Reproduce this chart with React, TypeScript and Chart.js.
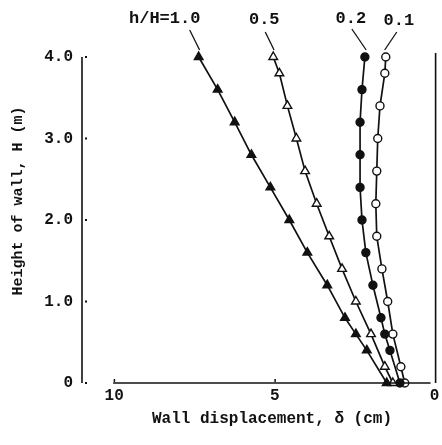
import React, { useEffect, useRef } from "react";
import { Chart, registerables } from "chart.js";

Chart.register(...registerables);

// Heights (m) at which displacement was measured
const heightsA = [4.0, 3.6, 3.2, 2.8, 2.4, 2.0, 1.6, 1.2, 0.8, 0.6, 0.4, 0];
const heightsB = [4.0, 3.8, 3.4, 3.0, 2.6, 2.2, 1.8, 1.4, 1.0, 0.6, 0.2, 0];

// Wall displacement (cm) for each h/H
const disp10 = [7.37, 6.78, 6.25, 5.73, 5.14, 4.55, 3.99, 3.37, 2.82, 2.48, 2.14, 1.52];
const disp05 = [5.05, 4.86, 4.61, 4.33, 4.06, 3.7, 3.31, 2.91, 2.48, 2.01, 1.58, 1.33];
const disp02 = [2.2, 2.29, 2.35, 2.35, 2.35, 2.29, 2.17, 1.95, 1.7, 1.58, 1.42, 1.11];
const disp01 = [1.55, 1.58, 1.73, 1.8, 1.83, 1.86, 1.83, 1.67, 1.49, 1.33, 1.08, 0.96];

const seriesLabels = ["h/H=1.0", "0.5", "0.2", "0.1"];
const yTicks = [4, 3, 2, 1, 0];
const yTickLabels = ["4.0", "3.0", "2.0", "1.0", "0"];
const xTicks = [10, 5, 0];
const xTickLabels = ["10", "5", "0"];
const xTitle = "Wall displacement, δ (cm)";
const yTitle = "Height of wall, H (m)";

const FONT = "'Liberation Mono', 'Courier New', monospace";

const toPts = (xs: number[], ys: number[]) => xs.map((x, i) => ({ x, y: ys[i] }));

// label offsets relative to top point of each series: [labelDx, labelDy, lineStartDx, lineStartDy]
const labelOffsets = [
  [-34, -38, -9, -27],
  [-9, -37, -8, -25],
  [-14, -38, -13, -28],
  [13, -36, 11, -25],
];

const decorPlugin = {
  id: "decor",
  afterDraw(chart: any) {
    const ctx = chart.ctx as CanvasRenderingContext2D;
    const xs = chart.scales.x;
    const ys = chart.scales.y;
    const ca = chart.chartArea;
    ctx.save();
    ctx.strokeStyle = "#111";
    ctx.fillStyle = "#111";
    // left axis
    ctx.lineWidth = 1.6;
    ctx.beginPath();
    ctx.moveTo(ca.left, ys.getPixelForValue(4));
    ctx.lineTo(ca.left, ys.getPixelForValue(0));
    ctx.stroke();
    // right line
    ctx.beginPath();
    ctx.moveTo(ca.right, ys.getPixelForValue(4) - 4);
    ctx.lineTo(ca.right, ys.getPixelForValue(0));
    ctx.stroke();
    // bottom line
    ctx.beginPath();
    ctx.moveTo(xs.getPixelForValue(10) - 1, ys.getPixelForValue(0));
    ctx.lineTo(xs.getPixelForValue(0) - 5, ys.getPixelForValue(0));
    ctx.stroke();
    // y tick dots
    yTicks.forEach((v) => {
      const py = ys.getPixelForValue(v);
      ctx.fillRect(ca.left + 3, py - 1, 2, 2);
    });
    // x tick marks
    [10, 5].forEach((v) => {
      const px = xs.getPixelForValue(v);
      ctx.fillRect(px - 0.5, ys.getPixelForValue(0) - 4, 1.5, 3);
    });
    // y tick labels
    ctx.font = `bold 16px ${FONT}`;
    ctx.textAlign = "right";
    ctx.textBaseline = "middle";
    yTicks.forEach((v, i) => {
      ctx.fillText(yTickLabels[i], ca.left - 9, ys.getPixelForValue(v));
    });
    // x tick labels
    ctx.textAlign = "center";
    xTicks.forEach((v, i) => {
      const px = xs.getPixelForValue(v);
      ctx.fillText(xTickLabels[i], v === 0 ? px - 1 : px, ys.getPixelForValue(0) + 13);
    });
    // x title
    ctx.font = `bold 16px ${FONT}`;
    ctx.fillText(xTitle, 272, 419);
    // y title
    ctx.font = `bold 15px ${FONT}`;
    ctx.save();
    ctx.translate(18, 201);
    ctx.rotate(-Math.PI / 2);
    ctx.fillText(yTitle, 0, 0);
    ctx.restore();
    // series labels with leader lines
    ctx.font = `bold 17px ${FONT}`;
    ctx.lineWidth = 1.3;
    chart.data.datasets.forEach((ds: any, i: number) => {
      const p0 = ds.data[0];
      const px = xs.getPixelForValue(p0.x);
      const py = ys.getPixelForValue(p0.y);
      const [lx, ly, sx, sy] = labelOffsets[i];
      ctx.fillText(seriesLabels[i], px + lx, py + ly);
      ctx.beginPath();
      ctx.moveTo(px + sx, py + sy);
      ctx.lineTo(px - sx * 0.1, py - 7);
      ctx.stroke();
    });
    ctx.restore();
  },
};

export default function App() {
  const ref = useRef<HTMLCanvasElement | null>(null);
  useEffect(() => {
    if (!ref.current) return;
    const common = {
      showLine: true,
      borderColor: "#111",
      borderWidth: 1.7,
      pointBorderColor: "#111",
      pointBorderWidth: 1.4,
      clip: false as any,
    };
    const chart = new Chart(ref.current, {
      type: "scatter",
      data: {
        datasets: [
          { ...common, label: seriesLabels[0], data: toPts(disp10, heightsA), pointStyle: "triangle", pointRadius: 5, pointBackgroundColor: "#111" },
          { ...common, label: seriesLabels[1], data: toPts(disp05, heightsB), pointStyle: "triangle", pointRadius: 5, pointBackgroundColor: "#fff" },
          { ...common, label: seriesLabels[2], data: toPts(disp02, heightsA), pointStyle: "circle", pointRadius: 4, pointBackgroundColor: "#111" },
          { ...common, label: seriesLabels[3], data: toPts(disp01, heightsB), pointStyle: "circle", pointRadius: 4, pointBackgroundColor: "#fff" },
        ],
      },
      options: {
        responsive: false,
        animation: false,
        layout: { padding: { left: 82, right: 4, top: 57, bottom: 62 } },
        plugins: { legend: { display: false }, tooltip: { enabled: false } },
        scales: {
          x: { type: "linear", reverse: true, min: 0, max: 11, display: false },
          y: { type: "linear", min: 0, max: 4, display: false },
        },
      },
      plugins: [decorPlugin],
    });
    return () => chart.destroy();
  }, []);
  return (
    <div style={{ position: "fixed", left: 0, top: 0, width: 442, height: 445, background: "#fff" }}>
      <canvas ref={ref} width={442} height={445} />
    </div>
  );
}
